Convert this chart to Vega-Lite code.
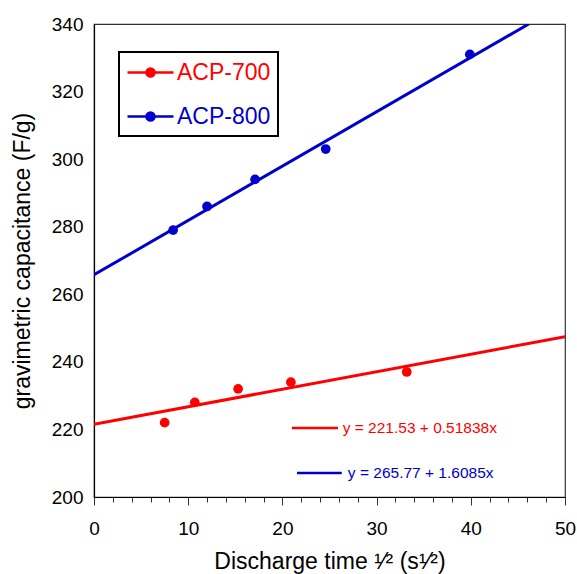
{
  "$schema": "https://vega.github.io/schema/vega-lite/v6.json",
  "width": 471,
  "height": 473,
  "autosize": {"type": "none"},
  "padding": {"left": 94, "top": 24, "right": 12, "bottom": 77},
  "background": "white",
  "config": {
    "font": "Liberation Sans",
    "view": {"stroke": "#333333", "strokeWidth": 1.2},
    "axis": {"grid": false, "domainColor": "black", "domainWidth": 1.2, "labelColor": "black", "titleColor": "black", "labelFont": "Liberation Sans", "titleFont": "Liberation Sans", "labelFontSize": 19, "titleFontSize": 23, "titleFontWeight": "normal", "tickColor": "#333333", "labelOverlap": false}
  },
  "datasets": {
    "points": [
      {"series": "ACP-700", "x": 7.5, "y": 222},
      {"series": "ACP-700", "x": 10.7, "y": 228},
      {"series": "ACP-700", "x": 15.3, "y": 232},
      {"series": "ACP-700", "x": 20.9, "y": 234},
      {"series": "ACP-700", "x": 33.2, "y": 237},
      {"series": "ACP-800", "x": 8.4, "y": 279},
      {"series": "ACP-800", "x": 12.0, "y": 286},
      {"series": "ACP-800", "x": 17.1, "y": 294},
      {"series": "ACP-800", "x": 24.6, "y": 303},
      {"series": "ACP-800", "x": 39.9, "y": 331}
    ],
    "fits": [
      {"series": "ACP-700", "x": 0, "y": 221.53},
      {"series": "ACP-700", "x": 50, "y": 247.45},
      {"series": "ACP-800", "x": 0, "y": 265.77},
      {"series": "ACP-800", "x": 46.15, "y": 340}
    ],
    "notes": [
      {"series": "ACP-700", "x": 21.0, "x2": 25.9, "y": 220.4, "tx": 26.4, "label": "y = 221.53 + 0.51838x"},
      {"series": "ACP-800", "x": 21.55, "x2": 26.3, "y": 207.1, "tx": 26.95, "label": "y = 265.77 + 1.6085x"}
    ]
  },
  "layer": [
    {
      "data": {"name": "fits"},
      "mark": {"type": "line", "strokeWidth": 3, "clip": true},
      "encoding": {
        "x": {"field": "x", "type": "quantitative", "scale": {"domain": [0, 50], "nice": false},
          "axis": {"values": [0,2,4,6,8,10,12,14,16,18,20,22,24,26,28,30,32,34,36,38,40,42,44,46,48,50],
            "tickCount": 60,
            "labelExpr": "datum.value % 10 === 0 ? datum.label : ''",
            "tickSize": {"condition": {"test": "datum.value % 10 === 0", "value": 8}, "value": 5},
            "labelPadding": 14, "labelOverlap": false, "labelFlush": false,
            "title": "Discharge time ¹⁄² (s¹⁄²)", "titlePadding": 12}},
        "y": {"field": "y", "type": "quantitative", "scale": {"domain": [200, 340], "nice": false},
          "axis": {"values": [200,220,240,260,280,300,320,340], "tickCount": 20, "ticks": false, "labelPadding": 11, "labelFlush": false,
            "title": "gravimetric capacitance (F/g)", "titlePadding": 17}},
        "color": {"field": "series", "type": "nominal",
          "scale": {"domain": ["ACP-700", "ACP-800"], "range": ["#ff0000", "#0000cc"]},
          "legend": {
            "orient": "none", "legendX": 25, "legendY": 28, "title": null,
            "symbolType": "M-2,0L2,0M0.35,0A0.35,0.35,0,1,1,-0.35,0A0.35,0.35,0,1,1,0.35,0Z",
            "symbolSize": 529, "symbolOffset": 11,
            "labelFontSize": 23, "labelFont": "Liberation Sans", "labelOffset": 13.5,
            "strokeColor": "black", "fillColor": "white",
            "padding": 7.5, "rowPadding": 19,
            "encode": {
              "legend": {"update": {"strokeWidth": {"value": 2}}},
              "symbols": {"update": {"fill": {"scale": "color", "field": "value"}, "stroke": {"scale": "color", "field": "value"}, "strokeWidth": {"value": 2.5}, "opacity": {"value": 1}}},
              "labels": {"update": {"fill": {"scale": "color", "field": "value"}}}
            }
          }}
      }
    },
    {
      "data": {"name": "points"},
      "mark": {"type": "point", "filled": true, "size": 95, "opacity": 1},
      "encoding": {
        "x": {"field": "x", "type": "quantitative"},
        "y": {"field": "y", "type": "quantitative"},
        "color": {"field": "series", "type": "nominal"}
      }
    },
    {
      "data": {"name": "notes"},
      "mark": {"type": "rule", "strokeWidth": 2.5},
      "encoding": {
        "x": {"field": "x", "type": "quantitative"},
        "x2": {"field": "x2"},
        "y": {"field": "y", "type": "quantitative"},
        "color": {"field": "series", "type": "nominal"}
      }
    },
    {
      "data": {"name": "notes"},
      "mark": {"type": "text", "align": "left", "baseline": "middle", "fontSize": 15.5, "font": "Liberation Sans"},
      "encoding": {
        "x": {"field": "tx", "type": "quantitative"},
        "y": {"field": "y", "type": "quantitative"},
        "text": {"field": "label"},
        "color": {"field": "series", "type": "nominal"}
      }
    }
  ]
}
